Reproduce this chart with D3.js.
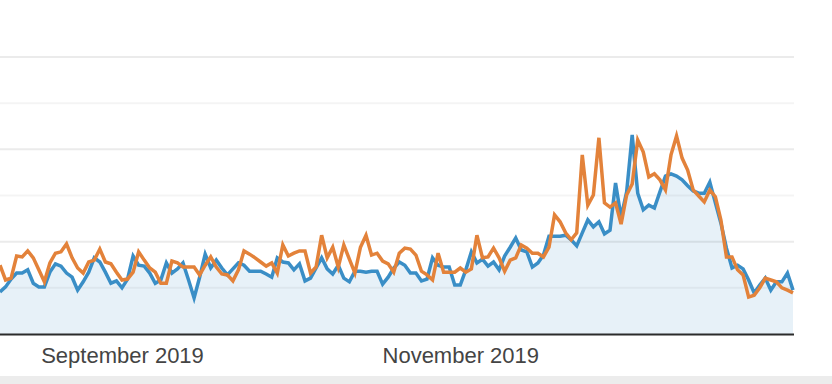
<!DOCTYPE html>
<html>
<head>
<meta charset="utf-8">
<script src="https://cdn.jsdelivr.net/npm/d3@7"></script>
<style>
  html, body { margin: 0; padding: 0; background: #fff; }
  svg { display: block; }
</style>
</head>
<body>
<div id="chart"></div>
<script>
const BLUE = "#3a8ec6";
const ORANGE = "#e3823a";
const AREA_FILL = "#e7f1f8";

// first day of the daily series, one value per day after that
const START_DATE = new Date(2019, 7, 10);
const MONTH_TICKS = [new Date(2019, 8, 1), new Date(2019, 10, 1)];
const GRID_VALUES = [100, 200, 300, 400, 500, 600];

// blue series (filled area)
const sessionsA = [
    91, 102, 119, 132, 132, 139, 110, 102, 102, 134, 152, 147, 132, 123, 95, 113, 134, 165, 156, 134,
    110, 115, 100, 119, 169, 149, 147, 132, 110, 117, 154, 132, 141, 154, 117, 78, 123,
    173, 143, 160, 143, 128, 141, 154, 149, 136, 136, 136, 130, 123, 165, 156, 154, 139, 152, 115,
    121, 143, 165, 141, 130, 149, 121, 113, 136, 136, 134, 136, 136, 108, 123, 143,
    156,
    149, 132, 132, 115, 119, 165, 149, 145, 145, 106, 106, 139, 178, 154, 162, 147, 156, 139, 169,
    188, 208, 182, 178, 145, 154, 171, 212, 212, 212, 214, 204, 191, 219, 247, 232,
    243, 217, 225, 327, 253, 308, 431, 305, 269, 279, 273, 308, 342, 347, 342, 334, 321, 310,
    305, 305, 329, 284, 240, 186, 143, 149, 141, 117, 89, 106, 121, 95, 113, 113, 132, 95
];

// orange series (comparison line)
const sessionsB = [
    149, 117, 121, 169, 167, 180, 165, 139, 113, 154, 175, 178, 195, 165, 143, 132, 156, 160, 184, 156,
    152, 134, 117, 119, 134, 178, 160, 143, 134, 110, 110, 158, 154, 145, 145, 145, 128,
    149, 167, 145, 130, 128, 115, 139, 180, 173, 165, 156, 147, 154, 132, 193, 169, 175, 180, 180,
    132, 145, 214, 165, 188, 145, 193, 162, 132, 188, 214, 171, 175, 158, 152, 134,
    175, 186, 184, 171, 136, 128, 117, 175, 134, 134, 134, 143, 134, 141, 214, 165, 167, 186, 165,
    136, 160, 165, 193, 186, 175, 175, 167, 188, 258, 243, 219, 204, 219, 388, 279, 301,
    425, 284, 275, 284, 238, 301, 325, 420, 394, 340, 347, 334, 312, 388, 429, 381, 355, 312,
    299, 286, 312, 297, 247, 167, 167, 139, 128, 80, 84, 100, 121, 117, 113, 100, 95, 89
];

var width = 832,
    height = 384,
    plot = { left: 0, right: 794, top: 57, bottom: 334 };

var svg = d3.select("#chart")
    .append("svg")
    .attr("width", width)
    .attr("height", height);

var dates = sessionsA.map((d, i) => d3.timeDay.offset(START_DATE, i));
var seriesA = sessionsA.map((v, i) => ({ date: dates[i], value: v }));
var seriesB = sessionsB.map((v, i) => ({ date: dates[i], value: v }));

var x = d3.scaleTime()
    .domain([dates[0], dates[dates.length - 1]])
    .range([plot.left, plot.right - 1]);

var y = d3.scaleLinear()
    .domain([0, 600])
    .range([plot.bottom, plot.top]);

// filled area under the blue series
svg.append("path")
    .datum(seriesA)
    .attr("d", d3.area()
        .x(d => x(d.date))
        .y0(y(0))
        .y1(d => y(d.value)))
    .style("fill", AREA_FILL);

// horizontal grid lines, alternating shade
svg.append("g")
    .selectAll("line")
    .data(GRID_VALUES)
    .enter()
    .append("line")
    .attr("x1", plot.left)
    .attr("x2", plot.right)
    .attr("y1", d => y(d))
    .attr("y2", d => y(d))
    .style("stroke", (d, i) => i % 2 === 0 ? "rgba(0,0,0,0.045)" : "rgba(0,0,0,0.08)")
    .style("stroke-width", 2);

var line = d3.line()
    .x(d => x(d.date))
    .y(d => y(d.value));

svg.append("path")
    .datum(seriesA)
    .attr("d", line)
    .style("fill", "none")
    .style("stroke", BLUE)
    .style("stroke-width", 3.5)
    .style("stroke-linejoin", "miter");

svg.append("path")
    .datum(seriesB)
    .attr("d", line)
    .style("fill", "none")
    .style("stroke", ORANGE)
    .style("stroke-width", 3.5)
    .style("stroke-linejoin", "miter");

// x axis with month labels
var xAxis = svg.append("g")
    .attr("transform", "translate(0," + plot.bottom + ")")
    .call(d3.axisBottom(x)
        .tickValues(MONTH_TICKS)
        .tickFormat(d3.timeFormat("%B %Y"))
        .tickSize(0)
        .tickPadding(13));

xAxis.select(".domain").remove();
xAxis.selectAll("text")
    .style("font-family", "'Liberation Sans', Arial, sans-serif")
    .style("font-size", "22px")
    .style("fill", "#444");

svg.append("line")
    .attr("x1", plot.left)
    .attr("x2", plot.right)
    .attr("y1", plot.bottom + 0.5)
    .attr("y2", plot.bottom + 0.5)
    .style("stroke", "#2b2b2b")
    .style("stroke-width", 2);

// grey strip at the bottom edge
svg.append("rect")
    .attr("x", 0)
    .attr("y", 376)
    .attr("width", width)
    .attr("height", height - 376)
    .style("fill", "#ececec");
</script>
</body>
</html>
